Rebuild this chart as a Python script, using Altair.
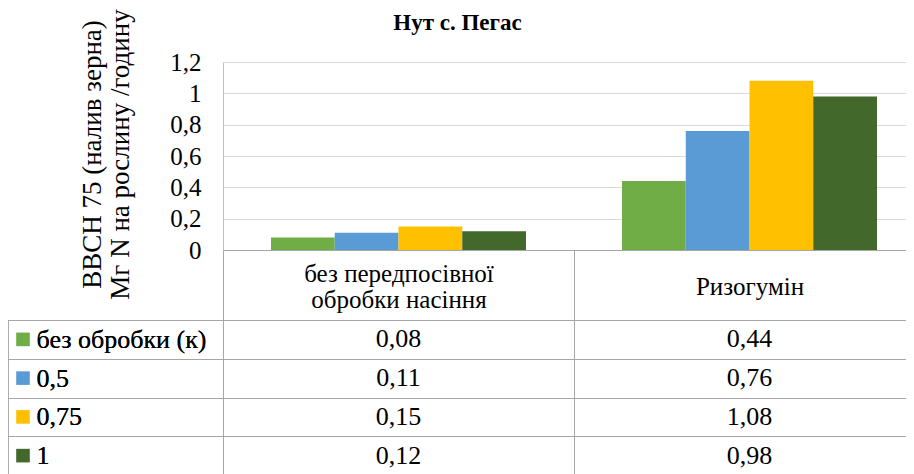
import altair as alt
import pandas as pd

categories = ["без передпосівної\nобробки насіння", "Ризогумін"]
series = ["без обробки (к)", "0,5", "0,75", "1"]
values_cat1 = [0.08, 0.11, 0.15, 0.12]
values_cat2 = [0.44, 0.76, 1.08, 0.98]
colors = ["#70AD47", "#5B9BD5", "#FFC000", "#43682B"]
y_ticks = [0, 0.2, 0.4, 0.6, 0.8, 1.0, 1.2]
title_text = "Нут с. Пегас"
y_title = ["ВВСН 75 (налив зерна)", "Мг N на рослину /годину"]

rows = []
for i, s in enumerate(series):
    rows.append({"category": categories[0], "series": s, "value": values_cat1[i]})
    rows.append({"category": categories[1], "series": s, "value": values_cat2[i]})
df = pd.DataFrame(rows)

FONT = "'Liberation Serif', 'Times New Roman', 'DejaVu Serif', serif"
GRAY = "#A6A6A6"
W, H = 683, 188

x_enc = alt.X(
    "category:N", sort=categories,
    scale=alt.Scale(range=[0, 702], paddingInner=0, paddingOuter=0),
    axis=alt.Axis(
        title=None, orient="bottom", domain=True, domainColor=GRAY,
        ticks=True, tickBand="extent", tickSize=224, tickColor=GRAY,
        labelExpr="split(datum.label, '\\n')", labelAngle=0,
        labelBaseline={"condition": {"test": "datum.value != 'Ризогумін'",
                                     "value": "bottom"},
                       "value": "middle"},
        labelPadding=-188, labelFont=FONT,
        labelFontSize=25, labelColor="black", labelLineHeight=26,
        labelOverlap=False, labelBound=False, labelLimit=500, grid=False,
    ),
)

color_enc = alt.Color("series:N", sort=series,
                      scale=alt.Scale(domain=series, range=colors), legend=None)

row_enc = alt.Y(
    "series:N", sort=series,
    scale=alt.Scale(range=[258, 413], paddingInner=0, paddingOuter=0),
    axis=alt.Axis(
        orient="left", title=None, domain=False, ticks=True,
        tickBand="extent", tickSize=215, tickColor=GRAY,
        grid=True, gridColor=GRAY, labelAlign="left", labelPadding=-28,
        labelFont=FONT, labelFontSize=26, labelColor="black",
        labelBaseline="middle", labelLimit=500,
    ),
)

bars = alt.Chart(df).mark_bar().encode(
    x=x_enc,
    xOffset=alt.XOffset("series:N", sort=series,
                        scale=alt.Scale(paddingInner=0, paddingOuter=0.753)),
    y=alt.Y(
        "value:Q", scale=alt.Scale(domain=[0, 1.2], nice=False),
        axis=alt.Axis(
            values=y_ticks,
            labelExpr="replace(format(datum.value, '~g'), '.', ',')",
            grid=True, gridColor="#D9D9D9", domain=True, domainColor="#BFBFBF",
            ticks=False, labelPadding=22, labelFont=FONT, labelFontSize=25,
            labelColor="black", title=y_title, titleFont=FONT,
            titleFontSize=27, titleFontWeight="normal", titleColor="black",
            titleAngle=-90, titleX=-131, titleY=92, titleAlign="center",
            titleBaseline="middle", titleLineHeight=28, titleLimit=600,
        ),
    ),
    color=color_enc,
)

table_text = alt.Chart(df).transform_calculate(
    label="replace(format(datum.value, '.2f'), '.', ',')"
).mark_text(font=FONT, fontSize=26, color="black", baseline="middle").encode(
    x=x_enc, y=row_enc, text="label:N",
)

swatches = alt.Chart(pd.DataFrame({"series": series})).mark_square(
    size=185, opacity=1
).encode(
    x=alt.value(-200), y=row_enc, color=color_enc,
)

left_border = alt.Chart(pd.DataFrame({"series": series})).mark_rule(
    color=GRAY, strokeWidth=1
).encode(x=alt.value(-215), y=alt.value(258), y2=alt.value(420))

chart = alt.layer(bars, table_text, swatches, left_border).resolve_scale(
    y="independent"
).properties(
    width=W, height=H,
    padding={"left": 215, "top": 54, "right": 0, "bottom": 225},
    autosize=alt.AutoSizeParams(type="none"),
    title=alt.TitleParams(title_text, font=FONT, fontSize=23, fontWeight="bold",
                          color="black", anchor="middle", frame="group",
                          dx=-107, dy=30),
).configure_view(stroke=None)

chart.save("out.html", embed_options={"renderer": "svg", "actions": False})
